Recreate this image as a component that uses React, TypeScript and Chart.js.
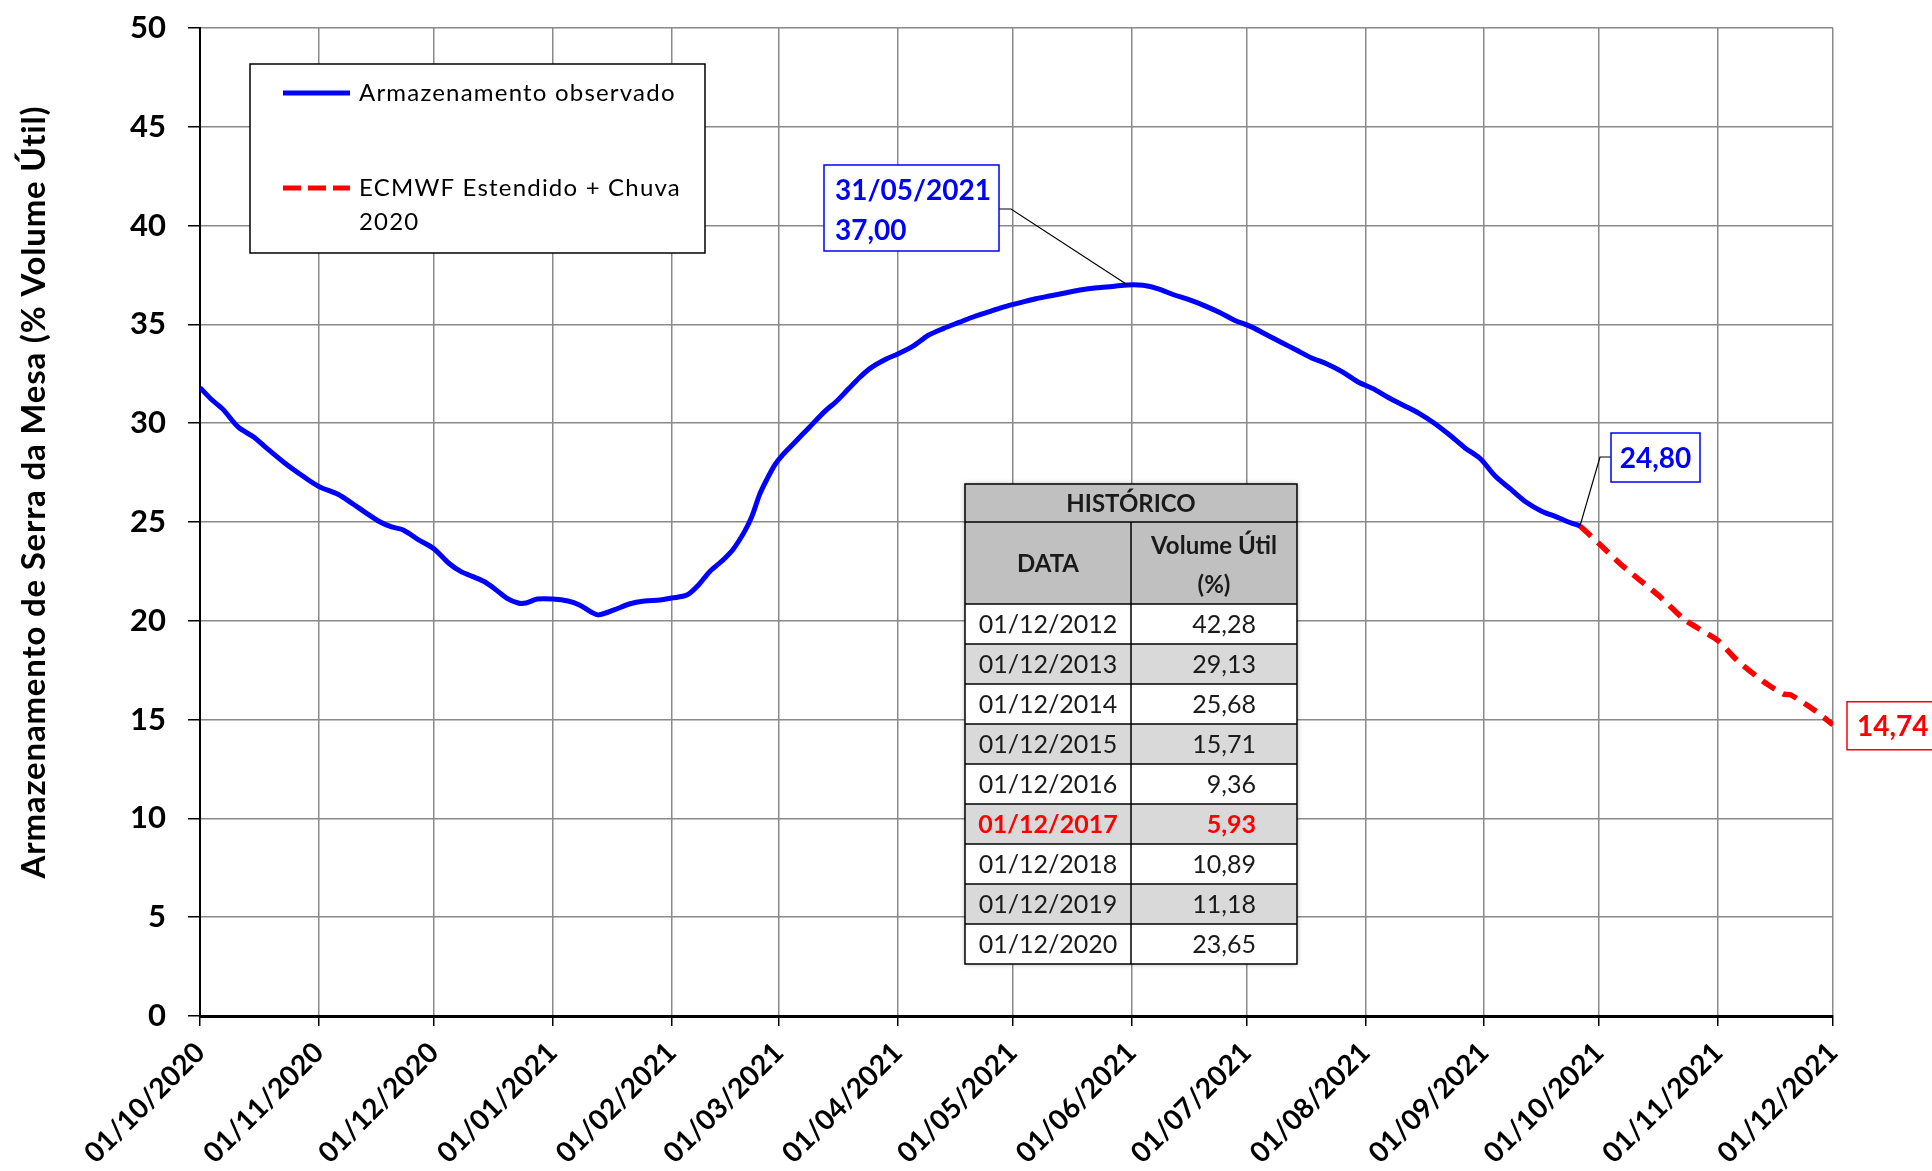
import React, { useEffect, useRef } from "react";
import { Chart, registerables } from "chart.js";

Chart.register(...registerables);

const FONT = "Lato, 'Open Sans', sans-serif";

// Days counted from 01/10/2020
const monthTickDays = [0, 31, 61, 92, 123, 151, 182, 212, 243, 273, 304, 335, 365, 396, 426];
const monthTickLabels = [
  "01/10/2020", "01/11/2020", "01/12/2020", "01/01/2021", "01/02/2021", "01/03/2021",
  "01/04/2021", "01/05/2021", "01/06/2021", "01/07/2021", "01/08/2021", "01/09/2021",
  "01/10/2021", "01/11/2021", "01/12/2021",
];

const obsDays = [
  0, 3, 6, 10, 14, 17, 22, 27, 31, 36, 40, 43, 47, 50, 53, 57, 61, 65, 68, 71, 74, 77, 80, 83, 85,
  88, 92, 96, 99, 102, 104, 108, 112, 116, 120, 123, 127, 130, 133, 136, 139, 142, 144, 146, 148,
  150, 152, 155, 159, 163, 166, 169, 172, 175, 179, 182, 186, 190, 194, 198, 202, 206, 210, 214,
  218, 222, 226, 230, 234, 238, 242, 246, 250, 254, 258, 262, 266, 270, 274, 278, 282, 286, 290,
  294, 298, 302, 306, 310, 314, 318, 322, 326, 330, 334, 338, 342, 346, 350, 354, 357, 360,
];
const obsValues = [
  31.8, 31.2, 30.7, 29.8, 29.3, 28.8, 28.0, 27.3, 26.8, 26.4, 25.9, 25.5, 25.0, 24.75, 24.6, 24.1,
  23.65, 22.9, 22.5, 22.25, 22.0, 21.6, 21.15, 20.9, 20.9, 21.1, 21.1, 21.0, 20.8, 20.45, 20.3,
  20.55, 20.85, 21.0, 21.05, 21.15, 21.3, 21.8, 22.5, 23.0, 23.6, 24.5, 25.3, 26.4, 27.2, 27.9,
  28.4, 29.0, 29.8, 30.6, 31.1, 31.7, 32.3, 32.8, 33.25, 33.5, 33.9, 34.45, 34.8, 35.1, 35.4, 35.65,
  35.9, 36.1, 36.3, 36.45, 36.6, 36.75, 36.85, 36.92, 37.0, 36.98, 36.8, 36.5, 36.25, 35.95, 35.6,
  35.2, 34.9, 34.5, 34.1, 33.7, 33.3, 33.0, 32.6, 32.1, 31.75, 31.3, 30.9, 30.5, 30.0, 29.4, 28.75,
  28.2, 27.3, 26.65, 26.0, 25.55, 25.25, 25.0, 24.8,
];

const fcDays = [360, 365, 371, 376, 381, 387, 391, 396, 401, 408, 413, 415, 421, 426];
const fcValues = [24.8, 23.9, 22.8, 22.0, 21.2, 20.1, 19.6, 19.0, 18.0, 16.9, 16.3, 16.25, 15.5, 14.74];

const histDates = [
  "01/12/2012", "01/12/2013", "01/12/2014", "01/12/2015", "01/12/2016",
  "01/12/2017", "01/12/2018", "01/12/2019", "01/12/2020",
];
const histValues = ["42,28", "29,13", "25,68", "15,71", "9,36", "5,93", "10,89", "11,18", "23,65"];
const histHighlight = 5;

const peakDay = 242;
const peakValue = 37.0;
const peakLabel = ["31/05/2021", "37,00"];
const lastObsDay = 360;
const lastObsValue = 24.8;
const lastObsLabel = "24,80";
const endValue = 14.74;
const endLabel = "14,74";

const yTitle = "Armazenamento de Serra da Mesa (% Volume Útil)";
const legendObs = "Armazenamento observado";
const legendFc = ["ECMWF Estendido + Chuva", "2020"];

const overlayPlugin = {
  id: "overlay",
  afterDraw(chart: any) {
    const ctx = chart.ctx as CanvasRenderingContext2D;
    const xs = chart.scales.x;
    const ys = chart.scales.y;

    // Y-axis title
    ctx.save();
    ctx.translate(34, 492);
    ctx.rotate(-Math.PI / 2);
    ctx.font = `bold 33px ${FONT}`;
    (ctx as any).letterSpacing = "0.8px";
    ctx.fillStyle = "#000";
    ctx.textAlign = "center";
    ctx.textBaseline = "middle";
    ctx.fillText(yTitle, 0, 0);
    (ctx as any).letterSpacing = "0px";
    ctx.restore();

    // Legend box
    ctx.save();
    ctx.fillStyle = "#fff";
    ctx.fillRect(250, 64, 455, 189);
    ctx.strokeStyle = "#000";
    ctx.lineWidth = 1.5;
    ctx.strokeRect(250, 64, 455, 189);
    ctx.lineWidth = 5;
    ctx.strokeStyle = "#0000ff";
    ctx.beginPath();
    ctx.moveTo(283, 93);
    ctx.lineTo(350, 93);
    ctx.stroke();
    ctx.strokeStyle = "#ff0000";
    ctx.setLineDash([18, 7]);
    ctx.beginPath();
    ctx.moveTo(283, 188);
    ctx.lineTo(350, 188);
    ctx.stroke();
    ctx.setLineDash([]);
    ctx.fillStyle = "#000";
    ctx.font = `24px ${FONT}`;
    (ctx as any).letterSpacing = "1.2px";
    ctx.textAlign = "left";
    ctx.textBaseline = "middle";
    ctx.fillText(legendObs, 359, 93);
    ctx.fillText(legendFc[0], 359, 188);
    ctx.fillText(legendFc[1], 359, 222);
    (ctx as any).letterSpacing = "0px";
    ctx.restore();

    // Historical table
    const tL = 965, tR = 1297, tM = 1131, tTop = 484;
    const hRow1 = 522, hRow2 = 604, rowH = 40;
    const tBottom = hRow2 + rowH * histDates.length;
    ctx.save();
    ctx.shadowColor = "rgba(0,0,0,0.35)";
    ctx.shadowBlur = 5;
    ctx.fillStyle = "#fff";
    ctx.fillRect(tL, tTop, tR - tL, tBottom - tTop);
    ctx.restore();
    ctx.save();
    ctx.fillStyle = "#c0c0c0";
    ctx.fillRect(tL, tTop, tR - tL, hRow2 - tTop);
    histDates.forEach((_, i) => {
      ctx.fillStyle = i % 2 === 1 ? "#d9d9d9" : "#ffffff";
      ctx.fillRect(tL, hRow2 + i * rowH, tR - tL, rowH);
    });
    ctx.strokeStyle = "#000";
    ctx.lineWidth = 1.5;
    ctx.strokeRect(tL, tTop, tR - tL, tBottom - tTop);
    ctx.beginPath();
    ctx.moveTo(tL, hRow1);
    ctx.lineTo(tR, hRow1);
    ctx.moveTo(tM, hRow1);
    ctx.lineTo(tM, tBottom);
    for (let i = 0; i < histDates.length; i++) {
      const y = hRow2 + i * rowH;
      ctx.moveTo(tL, y);
      ctx.lineTo(tR, y);
    }
    ctx.stroke();
    ctx.fillStyle = "#1a1a1a";
    ctx.textBaseline = "middle";
    ctx.textAlign = "center";
    ctx.font = `bold 24px ${FONT}`;
    ctx.fillText("HISTÓRICO", (tL + tR) / 2, (tTop + hRow1) / 2 + 1);
    ctx.fillText("DATA", (tL + tM) / 2, (hRow1 + hRow2) / 2 + 1);
    ctx.fillText("Volume Útil", (tM + tR) / 2, 546);
    ctx.fillText("(%)", (tM + tR) / 2, 585);
    histDates.forEach((d, i) => {
      const cy = hRow2 + i * rowH + rowH / 2 + 1;
      const hi = i === histHighlight;
      ctx.fillStyle = hi ? "#ff0000" : "#1a1a1a";
      ctx.font = `${hi ? "bold " : ""}25px ${FONT}`;
      ctx.textAlign = "center";
      ctx.fillText(d, (tL + tM) / 2, cy);
      ctx.textAlign = "right";
      ctx.fillText(histValues[i], 1256, cy);
    });
    ctx.restore();

    // Annotations
    const drawBox = (x: number, y: number, w: number, h: number, color: string) => {
      ctx.fillStyle = "#fff";
      ctx.fillRect(x, y, w, h);
      ctx.strokeStyle = color;
      ctx.lineWidth = 1.5;
      ctx.strokeRect(x, y, w, h);
    };
    ctx.save();
    const px = xs.getPixelForValue(peakDay);
    const py = ys.getPixelForValue(peakValue);
    ctx.strokeStyle = "#000";
    ctx.lineWidth = 1.2;
    ctx.beginPath();
    ctx.moveTo(999, 209);
    ctx.lineTo(1011, 209);
    ctx.lineTo(px, py);
    ctx.stroke();
    drawBox(824, 165, 175, 86, "#0000ff");
    ctx.fillStyle = "#0000ff";
    ctx.font = `bold 28px ${FONT}`;
    ctx.textAlign = "left";
    ctx.textBaseline = "middle";
    ctx.fillText(peakLabel[0], 835, 191);
    ctx.fillText(peakLabel[1], 835, 231);

    const lx = xs.getPixelForValue(lastObsDay);
    const ly = ys.getPixelForValue(lastObsValue);
    ctx.strokeStyle = "#000";
    ctx.lineWidth = 1.2;
    ctx.beginPath();
    ctx.moveTo(1611, 457);
    ctx.lineTo(1600, 457);
    ctx.lineTo(lx, ly);
    ctx.stroke();
    drawBox(1611, 433, 89, 49, "#0000ff");
    ctx.fillStyle = "#0000ff";
    ctx.textAlign = "center";
    ctx.fillText(lastObsLabel, 1655.5, 459);

    const ey = ys.getPixelForValue(endValue);
    drawBox(1847, ey - 23, 100, 48, "#ff0000");
    ctx.fillStyle = "#ff0000";
    ctx.textAlign = "left";
    ctx.fillText(endLabel, 1857, ey + 2);
    ctx.restore();
  },
};

export default function App() {
  const ref = useRef<HTMLCanvasElement>(null);

  useEffect(() => {
    const canvas = ref.current;
    if (!canvas) return;
    const chart = new Chart(canvas, {
      type: "line",
      data: {
        datasets: [
          {
            label: legendObs,
            data: obsDays.map((d, i) => ({ x: d, y: obsValues[i] })),
            borderColor: "#0000ff",
            borderWidth: 5,
            pointRadius: 0,
            tension: 0.3,
            fill: false,
          },
          {
            label: legendFc.join(" "),
            data: fcDays.map((d, i) => ({ x: d, y: fcValues[i] })),
            borderColor: "#ff0000",
            borderWidth: 5.5,
            borderDash: [15, 9],
            pointRadius: 0,
            tension: 0.2,
            fill: false,
          },
        ],
      },
      options: {
        responsive: false,
        animation: false,
        events: [],
        layout: { padding: { top: 28, right: 99, left: 0, bottom: 0 } },
        plugins: {
          legend: { display: false },
          tooltip: { enabled: false },
          title: { display: false },
        },
        scales: {
          x: {
            type: "linear",
            min: 0,
            max: 426,
            afterBuildTicks: (scale: any) => {
              scale.ticks = monthTickDays.map((v) => ({ value: v }));
            },
            afterFit: (scale: any) => {
              scale.height = 155;
              scale.paddingLeft = 0;
              scale.paddingRight = 0;
            },
            ticks: {
              autoSkip: false,
              maxRotation: 45,
              minRotation: 45,
              padding: 10,
              color: "#000",
              font: { family: FONT, size: 28, weight: "bold" },
              callback: (value: any) => {
                const i = monthTickDays.indexOf(Number(value));
                return i >= 0 ? monthTickLabels[i] : "";
              },
            },
            grid: {
              color: "#8a8a8a",
              lineWidth: 1.5,
              tickColor: "#000",
              tickLength: 10,
              drawTicks: true,
            },
            border: { color: "#000", width: 3 },
          },
          y: {
            type: "linear",
            min: 0,
            max: 50,
            afterFit: (scale: any) => {
              scale.width = 200;
              scale.paddingTop = 0;
              scale.paddingBottom = 0;
            },
            ticks: {
              stepSize: 5,
              padding: 22,
              color: "#000",
              font: { family: FONT, size: 31, weight: "bold" },
            },
            grid: {
              color: "#8a8a8a",
              lineWidth: 1.5,
              tickColor: "#000",
              tickLength: 12,
            },
            border: { color: "#000", width: 2 },
          },
        },
      },
      plugins: [overlayPlugin],
    } as any);
    return () => chart.destroy();
  }, []);

  return (
    <div style={{ position: "fixed", left: 0, top: 0, width: 1932, height: 1171, background: "#fff" }}>
      <canvas ref={ref} width={1932} height={1171} style={{ display: "block", width: 1932, height: 1171 }} />
    </div>
  );
}
